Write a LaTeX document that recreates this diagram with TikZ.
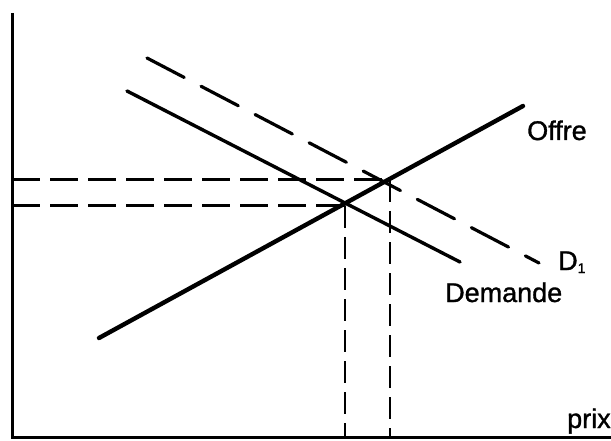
\documentclass[tikz,border=0pt]{standalone}
\usepackage{fontspec}
\setmainfont{Liberation Sans}[FakeBold=1.2]
\begin{document}
\begin{tikzpicture}[x=1pt,y=-1pt,
  axisline/.style={line width=3pt},
  supply/.style={line width=4.4pt,line cap=round},
  demand/.style={line width=3.4pt,line cap=round},
  shifted/.style={line width=3.2pt,line cap=round,dash pattern=on 42pt off 19pt},
  guide/.style={line width=3pt,dash pattern=on 28pt off 10pt},
  vguide/.style={line width=2.8pt,dash pattern=on 22pt off 9pt},
  lab/.style={inner sep=0pt,font=\fontsize{27}{30}\selectfont}]
\useasboundingbox (0,0) rectangle (611,441);
% axes
\coordinate (top) at (12,13);
\coordinate (origin) at (12,437);
\coordinate (right) at (611,437);
\draw[axisline] (top) -- (origin) -- (right);
% curves
\coordinate (s0) at (99,338);
\coordinate (s1) at (523,106);
\coordinate (d0) at (127,91);
\coordinate (d1) at (460,262);
\coordinate (e0) at (147,58);
\coordinate (e1) at (539,263);
\draw[demand] (d0) -- (d1);
\draw[shifted] (e0) -- (e1);
\draw[supply] (s0) -- (s1);
% equilibria
\coordinate (E1) at (345,206);
\coordinate (E2) at (390,180);
\coordinate (E1y) at (12,206);
\coordinate (E2y) at (12,180);
\coordinate (E1x) at (345,437);
\coordinate (E2x) at (390,437);
\draw[guide] (E2y) -- (E2);
\draw[guide] (E1y) -- (E1);
\draw[vguide] (E1) -- (E1x);
\draw[vguide] (E2) -- (E2x);
% labels
\node[lab,anchor=base west] (offre) at (527,140) {Offre};
\node[lab,anchor=base west] (demande) at (445,302) {Demande};
\node[lab,anchor=base west] (dun) at (558,270) {D\raisebox{-3pt}{\fontsize{14}{14}\selectfont 1}};
\node[lab,anchor=base west] (prix) at (567,428) {prix};
\end{tikzpicture}
\end{document}
